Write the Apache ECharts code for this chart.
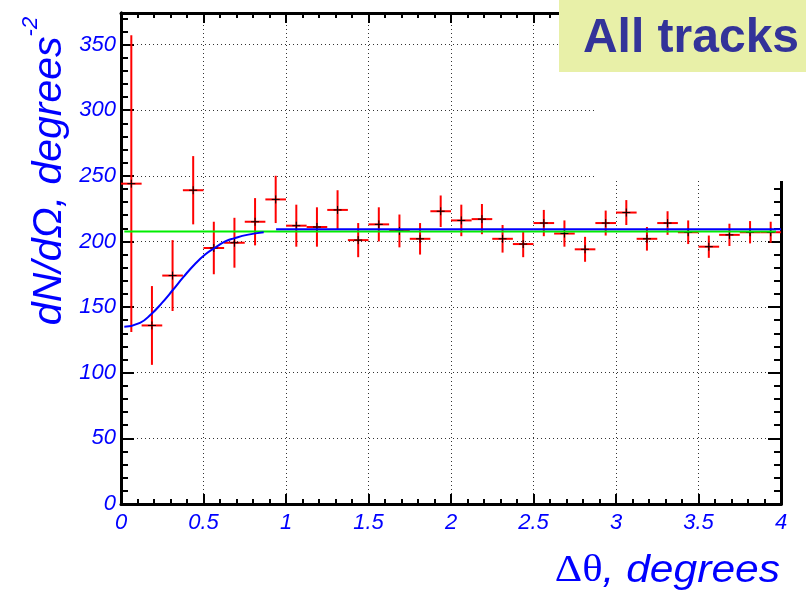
<!DOCTYPE html>
<html>
<head>
<meta charset="utf-8">
<script src="https://cdn.jsdelivr.net/npm/echarts@6/dist/echarts.min.js"></script>
<style>
  html, body { margin: 0; padding: 0; background: #fff; }
  #chart { width: 806px; height: 591px; }
</style>
</head>
<body>
<div id="chart"></div>
<script>
// bin centres (deg) and measured dN/dOmega with errors
const binCenters = [0.0625, 0.1875, 0.3125, 0.4375, 0.5625, 0.6875, 0.8125, 0.9375,
  1.0625, 1.1875, 1.3125, 1.4375, 1.5625, 1.6875, 1.8125, 1.9375,
  2.0625, 2.1875, 2.3125, 2.4375, 2.5625, 2.6875, 2.8125, 2.9375,
  3.0625, 3.1875, 3.3125, 3.4375, 3.5625, 3.6875, 3.8125, 3.9375]
const counts = [244, 136, 174, 239, 195, 199, 215, 232,
  212, 211, 224, 201, 213, 208, 202, 223,
  216, 217, 202, 198, 214, 206, 194, 214,
  222, 202, 214, 207, 196, 205, 207, 207]
const errors = [113, 30, 27, 26, 20, 19, 18, 18,
  16, 15, 15, 13, 13, 12.5, 12, 12,
  12, 11.5, 10.5, 10, 10, 10, 9.5, 9.5,
  9.5, 9, 9, 9, 8.5, 8.5, 8.5, 8]
const halfBin = 0.0625

// fitted curves
const fitCurveX = [0.02, 0.115, 0.186, 0.247, 0.314, 0.379, 0.45, 0.51, 0.567, 0.632, 0.689, 0.764, 0.865]
const fitCurveY = [135, 138, 145, 153, 163, 173, 183, 190, 195, 200, 202.5, 205, 207]
const fitFlatX = [0.94, 4.0]
const fitFlatY = [209.3, 209.3]
const constFitX = [0.02, 3.97]
const constFitY = [207.5, 207.5]

const blue = '#0000ff'
const labelFont = { color: blue, fontStyle: 'italic', fontFamily: 'Liberation Sans', fontSize: 22 }
const tickStyle = { color: '#000', width: 2 }
const frameStyle = { color: '#000', width: 3 }
const gridStyle = { color: '#333', type: [1, 3], width: 1 }

const chart = echarts.init(document.getElementById('chart'))

function xAxisCfg(pos, withLabels) {
  return {
    type: 'value', position: pos, min: 0, max: 4, interval: 0.5,
    axisLine: { show: true, onZero: false, lineStyle: frameStyle },
    axisTick: { show: true, inside: true, length: 10, lineStyle: tickStyle },
    minorTick: { show: true, splitNumber: 5, length: 5, lineStyle: tickStyle },
    axisLabel: withLabels
      ? Object.assign({ show: true, margin: 8, hideOverlap: false }, labelFont)
      : { show: false },
    splitLine: { show: withLabels, lineStyle: gridStyle }
  }
}
function yAxisCfg(pos, step, len, withLabels) {
  return {
    type: 'value', position: pos, min: 0, max: 374, interval: step,
    axisLine: { show: true, onZero: false, lineStyle: frameStyle },
    axisTick: { show: true, inside: true, length: len, lineStyle: tickStyle },
    axisLabel: withLabels
      ? Object.assign({ show: true, margin: 5, showMaxLabel: false, hideOverlap: false }, labelFont)
      : { show: false },
    splitLine: { show: withLabels, lineStyle: gridStyle }
  }
}

chart.setOption({
  animation: false,
  backgroundColor: '#fff',
  grid: { left: 121, right: 25, top: 13, bottom: 87 },
  xAxis: [xAxisCfg('bottom', true), xAxisCfg('top', false)],
  yAxis: [
    yAxisCfg('left', 50, 13, true),
    yAxisCfg('left', 10, 7, false),
    yAxisCfg('right', 50, 13, false),
    yAxisCfg('right', 10, 7, false)
  ],
  series: [
    {
      type: 'custom',
      xAxisIndex: 0, yAxisIndex: 0,
      data: binCenters.map((x, i) => [x, counts[i], errors[i]]),
      renderItem: function (params, api) {
        const x = api.value(0), y = api.value(1), e = api.value(2)
        const c = api.coord([x, y])
        const top = api.coord([x, y + e])
        const bot = api.coord([x, y - e])
        const l = api.coord([x - halfBin, y])
        const r = api.coord([x + halfBin, y])
        const red = { stroke: '#ff0000', lineWidth: 2 }
        const blk = { stroke: '#000', lineWidth: 1 }
        return {
          type: 'group',
          children: [
            { type: 'line', shape: { x1: c[0], y1: top[1], x2: c[0], y2: bot[1] }, style: red },
            { type: 'line', shape: { x1: l[0], y1: c[1], x2: r[0], y2: c[1] }, style: red },
            { type: 'line', shape: { x1: c[0] - 4, y1: c[1], x2: c[0] + 4, y2: c[1] }, style: blk },
            { type: 'line', shape: { x1: c[0], y1: c[1] - 4, x2: c[0], y2: c[1] + 4 }, style: blk }
          ]
        }
      },
      z: 3
    },
    {
      type: 'line', xAxisIndex: 0, yAxisIndex: 0,
      data: constFitX.map((x, i) => [x, constFitY[i]]),
      showSymbol: false, lineStyle: { color: '#00ee00', width: 2 }, z: 4
    },
    {
      type: 'line', xAxisIndex: 0, yAxisIndex: 0,
      data: fitFlatX.map((x, i) => [x, fitFlatY[i]]),
      showSymbol: false, lineStyle: { color: blue, width: 2 }, z: 5
    },
    {
      type: 'line', xAxisIndex: 0, yAxisIndex: 0, smooth: true,
      data: fitCurveX.map((x, i) => [x, fitCurveY[i]]),
      showSymbol: false, lineStyle: { color: blue, width: 2 }, z: 5
    }
  ],
  graphic: [
    { type: 'rect', z: 100, shape: { x: 594, y: 0, width: 212, height: 181 }, style: { fill: '#fff' } },
    { type: 'rect', z: 101, shape: { x: 559, y: 0, width: 247, height: 72 }, style: { fill: '#e8f0a8' } },
    {
      type: 'text', z: 102, x: 691, y: 39,
      style: {
        text: 'All tracks', fill: '#333399', align: 'center', verticalAlign: 'middle',
        font: 'bold 48px "Liberation Sans"'
      }
    },
    {
      type: 'text', z: 102, x: 780, y: 590, scaleX: 1.12,
      style: {
        text: '{u|Δθ}{i|, degrees}', align: 'right', verticalAlign: 'bottom',
        rich: {
          u: { fill: blue, fontSize: 38, fontFamily: 'Liberation Serif' },
          i: { fill: blue, fontSize: 38, fontStyle: 'italic', fontFamily: 'Liberation Sans' }
        }
      }
    },
    {
      type: 'text', z: 102, x: 45, y: 171, rotation: Math.PI / 2,
      style: {
        text: '{m|dN/dΩ, degrees}{s|-2}', align: 'center', verticalAlign: 'middle',
        rich: {
          m: { fill: blue, fontSize: 41, fontStyle: 'italic', fontFamily: 'Liberation Sans', lineHeight: 50, verticalAlign: 'bottom' },
          s: { fill: blue, fontSize: 22, fontStyle: 'italic', fontFamily: 'Liberation Sans', lineHeight: 50, verticalAlign: 'top' }
        }
      }
    }
  ]
})
window.addEventListener('resize', () => chart.resize())
</script>
</body>
</html>
